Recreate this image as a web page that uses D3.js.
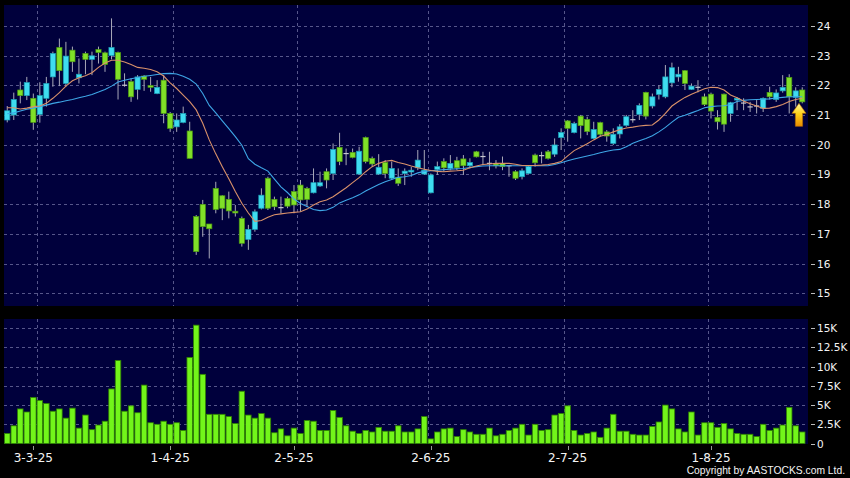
<!DOCTYPE html>
<html><head><meta charset="utf-8">
<script src="https://cdn.jsdelivr.net/npm/d3@7"></script>
<style>html,body{margin:0;padding:0;background:#000;}svg{display:block;}</style>
</head><body>
<svg id="chart" width="850" height="478"></svg>
<script>
// ---- data ----
const opens = [20.83,21.00,21.84,21.65,21.56,21.02,21.56,22.28,23.27,22.06,
 23.18,22.25,23.07,22.87,23.20,23.09,23.00,23.10,22.00,22.12,
 21.86,22.31,21.99,21.72,22.17,21.05,20.60,20.75,20.46,17.58,
 17.99,17.33,18.53,18.28,18.16,17.76,17.52,16.81,17.15,17.86,
 18.87,18.16,17.88,18.19,18.42,18.64,18.53,18.38,18.61,19.09,
 19.03,19.91,19.70,19.74,19.01,20.24,19.54,19.01,19.40,18.87,
 18.89,19.03,19.08,19.22,19.01,18.38,19.17,19.43,19.20,19.46,
 19.52,19.29,19.76,19.60,19.37,19.35,19.37,19.29,19.09,18.92,
 19.03,19.65,19.63,19.76,19.68,20.24,20.80,20.41,20.96,20.85,
 20.21,20.74,20.43,20.04,20.36,20.65,20.84,21.02,21.76,21.30,
 21.69,21.61,22.08,22.28,22.49,21.86,21.93,21.61,21.70,20.92,
 21.70,21.05,21.50,21.40,21.27,21.30,21.22,21.76,21.52,21.81,
 22.26,21.59,21.84];
const highs = [21.30,21.75,22.12,22.28,21.72,22.10,22.28,23.13,23.57,23.46,
 23.30,22.90,23.13,23.13,23.30,23.13,24.25,23.13,22.40,22.23,
 22.34,22.34,22.28,22.17,22.34,21.10,21.05,21.28,20.77,17.63,
 18.14,17.33,18.75,18.30,18.42,17.97,17.58,17.30,17.82,18.53,
 18.92,18.25,18.25,18.25,18.64,18.81,18.58,19.20,19.09,19.20,
 20.04,20.40,19.87,19.87,19.93,20.27,19.60,19.68,19.48,19.43,
 19.20,19.20,19.25,19.82,19.82,19.03,19.43,19.54,19.65,19.59,
 19.65,19.54,19.79,19.76,19.76,19.48,19.60,19.31,19.14,19.20,
 19.31,19.70,19.76,19.82,20.21,20.55,20.83,20.77,21.00,20.94,
 20.77,20.77,20.49,20.55,20.69,21.00,21.16,21.39,21.78,21.72,
 22.00,22.68,22.76,22.62,22.51,22.06,22.17,21.72,21.75,21.16,
 21.72,21.44,21.60,21.56,21.44,21.50,21.59,21.95,21.86,22.34,
 22.37,21.93,21.93];
const lows = [20.75,20.83,21.39,21.50,20.50,20.74,21.28,21.95,21.97,21.95,
 22.45,22.06,22.37,22.34,22.73,22.45,22.87,21.52,21.95,21.44,
 21.52,21.81,21.78,21.70,20.72,20.43,20.43,20.72,19.54,16.29,
 16.90,16.17,17.69,17.46,17.52,17.58,16.57,16.46,17.07,17.82,
 17.80,17.80,17.69,17.86,17.69,17.74,17.91,18.36,18.58,18.53,
 18.81,19.31,19.31,19.54,18.98,19.37,19.26,18.98,18.87,18.81,
 18.61,18.64,18.92,19.14,18.98,18.36,18.98,19.09,19.14,19.14,
 18.98,19.20,19.57,19.31,19.14,19.20,19.14,18.92,18.81,18.83,
 19.01,19.26,19.37,19.50,19.59,19.82,20.10,20.38,20.21,20.32,
 20.18,20.27,20.10,19.99,20.21,20.60,20.74,20.83,20.85,21.22,
 21.52,21.56,21.93,22.12,21.84,21.84,21.76,21.30,20.88,20.51,
 20.43,20.77,21.16,21.16,21.10,21.05,21.10,21.52,21.44,21.75,
 21.05,21.28,21.39];
const closes = [21.14,21.52,21.65,22.09,20.75,21.65,22.06,23.07,22.49,22.98,
 22.79,22.37,22.87,22.99,23.10,22.70,23.27,22.20,22.00,21.61,
 22.28,22.20,21.93,21.93,21.05,20.55,20.83,21.05,19.54,16.40,
 17.24,17.17,17.82,17.86,17.77,17.70,16.68,17.15,17.74,18.30,
 17.86,17.91,17.88,17.93,17.97,18.14,18.16,18.72,18.72,18.81,
 19.84,19.43,19.70,19.57,19.78,19.43,19.35,19.24,19.03,19.20,
 18.70,19.11,19.14,19.48,19.14,18.98,19.26,19.22,19.37,19.22,
 19.29,19.40,19.59,19.60,19.37,19.29,19.26,19.29,18.87,19.12,
 19.26,19.39,19.63,19.54,19.99,20.41,20.55,20.71,20.64,20.44,
 20.51,20.35,20.29,20.35,20.60,20.94,20.84,21.32,20.96,21.61,
 21.86,22.28,22.59,22.37,22.06,21.97,21.93,21.35,21.13,20.77,
 20.69,21.41,21.56,21.40,21.27,21.30,21.56,21.61,21.74,21.93,
 21.61,21.81,21.44];
// volume in thousands of shares
const volumes = [1.3,2.3,4.5,4.1,6.0,5.6,5.2,4.2,4.5,3.3,
 4.6,2.0,3.7,1.8,2.4,2.9,7.1,10.8,4.2,4.9,
 4.0,7.6,2.7,2.5,2.9,2.5,2.7,1.7,11.2,15.4,
 9.0,3.8,3.8,3.8,3.5,2.6,6.8,3.7,3.3,3.9,
 3.3,1.4,1.9,1.0,2.0,1.3,3.0,2.9,1.7,1.7,
 4.3,3.4,2.3,1.6,1.3,1.7,1.5,2.1,1.6,1.6,
 2.3,1.5,1.5,1.9,3.5,0.6,1.5,1.9,2.0,0.9,
 1.8,1.5,1.2,1.2,2.0,1.0,1.2,1.7,2.0,2.5,
 1.1,2.5,1.7,1.8,3.7,3.9,4.9,1.7,1.1,1.3,
 1.5,0.8,2.0,3.8,1.6,1.6,1.2,1.1,1.1,2.2,
 2.8,5.0,4.5,1.9,1.5,4.1,1.1,2.7,2.7,2.1,
 2.6,1.9,1.3,1.2,1.2,0.9,2.5,1.7,2.0,2.4,
 4.7,2.3,1.5];
// moving averages as drawn on the reference
const ma10 = [21.24,21.24,21.20,21.23,21.28,21.30,21.39,21.56,21.75,21.97,
 22.15,22.25,22.32,22.42,22.60,22.75,22.84,22.84,22.78,22.70,
 22.60,22.57,22.53,22.45,22.31,22.08,21.89,21.67,21.45,21.17,
 20.72,20.16,19.69,19.26,18.85,18.42,18.03,17.70,17.42,17.45,
 17.56,17.64,17.67,17.70,17.72,17.74,17.83,17.97,18.08,18.14,
 18.25,18.40,18.55,18.72,18.89,19.09,19.26,19.37,19.44,19.47,
 19.40,19.35,19.28,19.22,19.17,19.13,19.10,19.09,19.11,19.12,
 19.14,19.22,19.28,19.33,19.35,19.37,19.37,19.37,19.34,19.30,
 19.30,19.30,19.31,19.33,19.37,19.43,19.62,19.80,19.91,20.03,
 20.16,20.28,20.34,20.43,20.50,20.56,20.59,20.63,20.65,20.66,
 20.83,21.05,21.30,21.45,21.59,21.70,21.79,21.88,21.93,21.92,
 21.84,21.67,21.58,21.47,21.38,21.30,21.22,21.23,21.28,21.35,
 21.45,21.52,21.56];
const ma20 = [21.04,21.07,21.13,21.19,21.23,21.28,21.33,21.39,21.43,21.48,
 21.52,21.58,21.63,21.69,21.77,21.86,21.97,22.11,22.17,22.22,
 22.26,22.30,22.33,22.36,22.39,22.40,22.38,22.30,22.20,22.04,
 21.72,21.32,21.07,20.80,20.54,20.27,19.98,19.53,19.34,19.22,
 19.11,18.84,18.58,18.39,18.17,18.02,17.92,17.82,17.78,17.80,
 17.89,18.04,18.13,18.21,18.31,18.44,18.55,18.66,18.75,18.83,
 18.90,18.92,18.96,19.05,19.10,19.12,19.14,19.16,19.17,19.19,
 19.20,19.23,19.26,19.28,19.29,19.29,19.29,19.29,19.29,19.29,
 19.29,19.29,19.29,19.29,19.33,19.39,19.46,19.52,19.57,19.62,
 19.67,19.73,19.78,19.82,19.84,19.93,20.05,20.13,20.21,20.30,
 20.43,20.58,20.76,20.92,20.99,21.07,21.15,21.24,21.28,21.30,
 21.31,21.35,21.45,21.49,21.51,21.52,21.53,21.54,21.57,21.59,
 21.61,21.61,21.61];
const dateTickIndex = [4, 25, 44, 65, 86, 108];
const dateTickLabels = ["3-3-25", "1-4-25", "2-5-25", "2-6-25", "2-7-25", "1-8-25"];
const gridIndex = [5, 26, 45, 65, 86, 108];
const priceTicks = [15, 16, 17, 18, 19, 20, 21, 22, 23, 24];
const volumeTicks = [0, 2.5, 5, 7.5, 10, 12.5, 15];
const volumeTickLabels = ["0", "2.5K", "5K", "7.5K", "10K", "12.5K", "15K"];
const arrowBar = 121;
const arrowPrice = 21.39;

// ---- drawing ----
const svg = d3.select("#chart");
const N = closes.length;
const x = d3.scaleBand().domain(d3.range(N)).range([4, 805.5]).padding(0);
const step = x.step();
const cx = i => x(i) + step / 2;
const y = d3.scaleLinear().domain([14.57, 24.70]).range([306, 5]);
const yv = d3.scaleLinear().domain([0, 16.2]).range([443.5, 319]);

const P = {l: 4, r: 808, t: 5, b: 306};
const V = {t: 319, b: 444};

svg.append("rect").attr("width", 850).attr("height", 478).attr("fill", "#000");
svg.append("rect").attr("x", P.l).attr("y", P.t).attr("width", P.r - P.l).attr("height", P.b - P.t).attr("fill", "#00003c");
svg.append("rect").attr("x", P.l).attr("y", V.t).attr("width", P.r - P.l).attr("height", V.b - V.t).attr("fill", "#00003c");

const grid = svg.append("g").attr("stroke", "#56568a").attr("stroke-width", 1).attr("stroke-dasharray", "3,3");
grid.selectAll("line.hp").data(priceTicks).join("line")
  .attr("x1", P.l).attr("x2", P.r).attr("y1", d => Math.round(y(d)) + 0.5).attr("y2", d => Math.round(y(d)) + 0.5);
grid.selectAll("line.hv").data(volumeTicks.filter(d => d > 0)).join("line")
  .attr("x1", P.l).attr("x2", P.r).attr("y1", d => Math.round(yv(d)) + 0.5).attr("y2", d => Math.round(yv(d)) + 0.5);
gridIndex.forEach(i => {
  const gx = Math.round(x(i)) + 0.5;
  grid.append("line").attr("x1", gx).attr("x2", gx).attr("y1", P.t).attr("y2", P.b);
  grid.append("line").attr("x1", gx).attr("x2", gx).attr("y1", V.t).attr("y2", V.b);
});

// volume bars
svg.append("g").selectAll("rect").data(volumes).join("rect")
  .attr("x", (d, i) => x(i) + 0.5)
  .attr("width", step - 1)
  .attr("y", d => yv(d))
  .attr("height", d => yv(0) - yv(d))
  .attr("fill", "#72f51a")
  .attr("stroke", "#2f8200")
  .attr("stroke-width", 0.8);

// candles
const cg = svg.append("g");
const bw = 5.2;
d3.range(N).forEach(i => {
  const o = opens[i], c = closes[i];
  cg.append("line").attr("x1", cx(i)).attr("x2", cx(i))
    .attr("y1", y(highs[i])).attr("y2", y(lows[i]))
    .attr("stroke", "#a8a8b8").attr("stroke-width", 1);
  if (o === c) {
    cg.append("line").attr("x1", cx(i) - bw / 2).attr("x2", cx(i) + bw / 2)
      .attr("y1", y(o)).attr("y2", y(o)).attr("stroke", "#c8c8d0").attr("stroke-width", 1.2);
  } else {
    const up = c > o;
    const top = y(Math.max(o, c)), bot = y(Math.min(o, c));
    cg.append("rect").attr("x", cx(i) - bw / 2).attr("width", bw)
      .attr("y", top).attr("height", Math.max(1.5, bot - top))
      .attr("fill", up ? "#3fdcf0" : "#80e028")
      .attr("stroke", up ? "#1a9fb5" : "#4d9a12").attr("stroke-width", 0.7);
  }
});

// moving averages
const line = d3.line().x((d, i) => cx(i)).y(d => y(d));
svg.append("path").datum(ma20).attr("d", line).attr("fill", "none").attr("stroke", "#3ea6e6").attr("stroke-width", 1.1);
svg.append("path").datum(ma10).attr("d", line).attr("fill", "none").attr("stroke", "#d9916a").attr("stroke-width", 1.1);

// arrow
const defs = svg.append("defs");
const grad = defs.append("linearGradient").attr("id", "ag").attr("x1", 0).attr("x2", 0).attr("y1", 0).attr("y2", 1);
grad.append("stop").attr("offset", "0%").attr("stop-color", "#fff7a0");
grad.append("stop").attr("offset", "45%").attr("stop-color", "#ffd21a");
grad.append("stop").attr("offset", "100%").attr("stop-color", "#e88a00");
const tx = x(arrowBar) + step, ty = y(arrowPrice);
svg.append("path")
  .attr("d", `M${tx},${ty} L${tx + 7},${ty + 10} L${tx + 3.6},${ty + 10} L${tx + 3.6},${ty + 23} L${tx - 3.6},${ty + 23} L${tx - 3.6},${ty + 10} L${tx - 7},${ty + 10} Z`)
  .attr("fill", "url(#ag)").attr("stroke", "#b86a00").attr("stroke-width", 0.6);

// right axes
const axFont = "DejaVu Sans, sans-serif";
const ra = svg.append("g");
priceTicks.forEach(v => {
  ra.append("line").attr("x1", 811).attr("x2", 815).attr("y1", Math.round(y(v)) + 0.5).attr("y2", Math.round(y(v)) + 0.5).attr("stroke", "#bbb");
  ra.append("text").attr("x", 817).attr("y", y(v) + 4).text(v)
    .attr("fill", "#f4f4f4").attr("font-family", axFont).attr("font-size", "10.5px");
});
volumeTicks.forEach((v, k) => {
  ra.append("line").attr("x1", 811).attr("x2", 815).attr("y1", Math.round(yv(v)) + 0.5).attr("y2", Math.round(yv(v)) + 0.5).attr("stroke", "#bbb");
  ra.append("text").attr("x", 817).attr("y", yv(v) + 4).text(volumeTickLabels[k])
    .attr("fill", "#f4f4f4").attr("font-family", axFont).attr("font-size", "10.5px");
});

// date axis
dateTickIndex.forEach((i, k) => {
  svg.append("line").attr("x1", Math.round(cx(i)) + 0.5).attr("x2", Math.round(cx(i)) + 0.5)
    .attr("y1", 446).attr("y2", 450).attr("stroke", "#999");
  svg.append("text").attr("x", cx(i)).attr("y", 461.5).attr("text-anchor", "middle")
    .text(dateTickLabels[k]).attr("fill", "#f4f4f4").attr("font-family", axFont).attr("font-size", "12px");
});

svg.append("text").attr("x", 845).attr("y", 474).attr("text-anchor", "end")
  .text("Copyright by AASTOCKS.com Ltd.").attr("fill", "#f4f4f4")
  .attr("font-family", "Liberation Sans, Arial, sans-serif").attr("font-size", "10.3px");
</script>
</body></html>
